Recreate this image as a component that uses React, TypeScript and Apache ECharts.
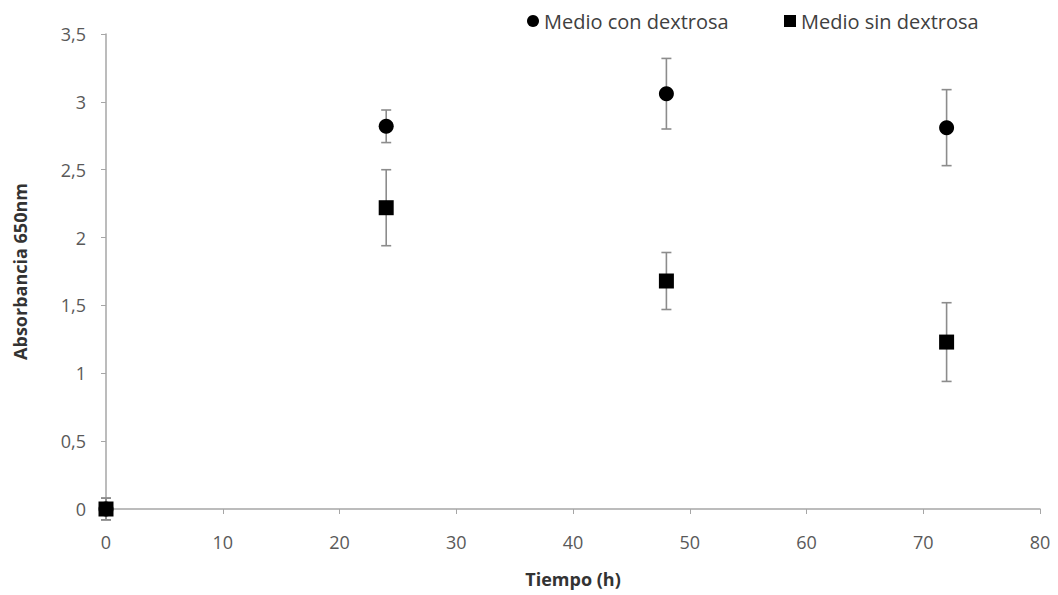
import React, { useEffect, useRef } from "react";
import * as echarts from "echarts";

const times = [0, 24, 48, 72];
const conDextrosa = [0, 2.82, 3.06, 2.81];
const conDextrosaErr = [0.08, 0.12, 0.26, 0.28];
const sinDextrosa = [0, 2.22, 1.68, 1.23];
const sinDextrosaErr = [0.08, 0.28, 0.21, 0.29];
const seriesNames = ["Medio con dextrosa", "Medio sin dextrosa"];

const FONT = "'Open Sans', 'Liberation Sans', sans-serif";

function errorSeries(values: number[], errs: number[]) {
  const data = times.map((t, i) => [t, values[i] - errs[i], values[i] + errs[i]]);
  return {
    type: "custom",
    silent: true,
    z: 1,
    data,
    renderItem: (params: any, api: any) => {
      const x = api.value(0);
      const lo = api.coord([x, api.value(1)]);
      const hi = api.coord([x, api.value(2)]);
      const half = 5;
      const style = { stroke: "#8c8c8c", lineWidth: 1.6 };
      return {
        type: "group",
        children: [
          { type: "line", shape: { x1: hi[0], y1: hi[1], x2: lo[0], y2: lo[1] }, style },
          { type: "line", shape: { x1: hi[0] - half, y1: hi[1], x2: hi[0] + half, y2: hi[1] }, style },
          { type: "line", shape: { x1: lo[0] - half, y1: lo[1], x2: lo[0] + half, y2: lo[1] }, style },
        ],
      };
    },
  };
}

const legendText = { fontFamily: FONT, fontSize: 20, color: "#404040" };

export default function App() {
  const ref = useRef<HTMLDivElement>(null);
  useEffect(() => {
    const chart = echarts.init(ref.current!, null, { renderer: "svg" });
    chart.setOption({
      animation: false,
      backgroundColor: "#ffffff",
      grid: { left: 98, right: 18, top: 26, bottom: 86, outerBoundsMode: "none", containLabel: false },
      legend: [
        {
          top: -2,
          left: 514,
          itemWidth: 12,
          itemHeight: 12,
          textStyle: legendText,
          data: [{ name: seriesNames[0], icon: "circle" }],
        },
        {
          top: -2,
          left: 771,
          itemWidth: 12,
          itemHeight: 12,
          textStyle: legendText,
          data: [{ name: seriesNames[1], icon: "rect" }],
        },
      ],
      xAxis: {
        type: "value",
        min: 0,
        max: 80,
        interval: 10,
        name: "Tiempo (h)",
        nameLocation: "middle",
        nameGap: 61,
        nameTextStyle: { fontFamily: FONT, fontSize: 18, fontWeight: "bold", color: "#333" },
        axisLine: { lineStyle: { color: "#a6a6a6", width: 1.5 } },
        axisTick: { show: true, length: 5, lineStyle: { color: "#a6a6a6" } },
        axisLabel: { fontFamily: FONT, fontSize: 18, color: "#595959", margin: 24 },
        splitLine: { show: false },
      },
      yAxis: {
        type: "value",
        min: 0,
        max: 3.5,
        interval: 0.5,
        name: "Absorbancia 650nm",
        nameLocation: "middle",
        nameGap: 77,
        nameRotate: 90,
        nameTextStyle: { fontFamily: FONT, fontSize: 18, fontWeight: "bold", color: "#333" },
        axisLine: { show: true, lineStyle: { color: "#a6a6a6", width: 1.5 } },
        axisTick: { show: true, length: 5, lineStyle: { color: "#a6a6a6" } },
        axisLabel: {
          fontFamily: FONT,
          fontSize: 18,
          color: "#595959",
          margin: 20,
          formatter: (v: number) => String(v).replace(".", ","),
        },
        splitLine: { show: false },
      },
      series: [
        errorSeries(conDextrosa, conDextrosaErr),
        errorSeries(sinDextrosa, sinDextrosaErr),
        {
          name: seriesNames[0],
          type: "scatter",
          symbol: "circle",
          symbolSize: 15,
          z: 3,
          itemStyle: { color: "#000", opacity: 1 },
          data: times.map((t, i) => [t, conDextrosa[i]]),
        },
        {
          name: seriesNames[1],
          type: "scatter",
          symbol: "rect",
          symbolSize: 15,
          z: 4,
          itemStyle: { color: "#000", opacity: 1 },
          data: times.map((t, i) => [t, sinDextrosa[i]]),
        },
      ],
    });
    return () => chart.dispose();
  }, []);
  return <div ref={ref} style={{ width: 1050, height: 587 }} />;
}
